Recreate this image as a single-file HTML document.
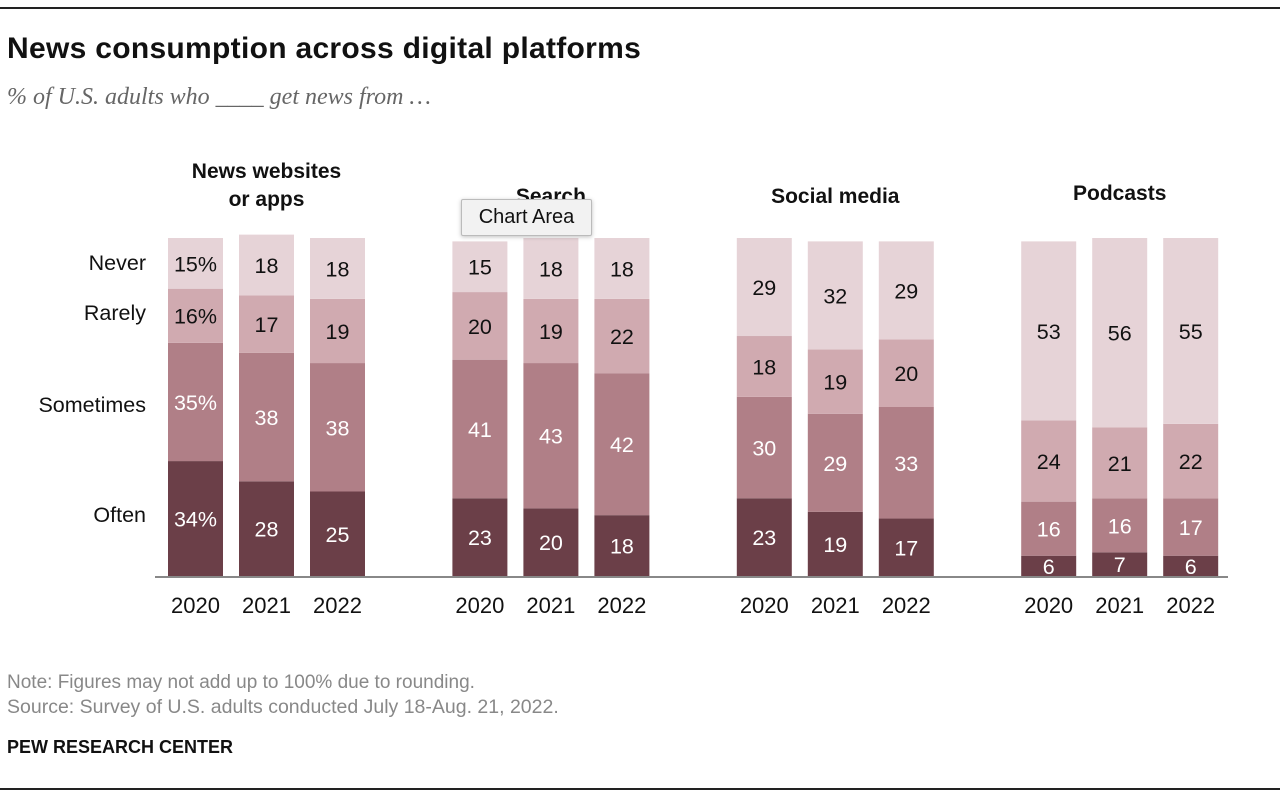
<!DOCTYPE html>
<html><head><meta charset="utf-8"><style>
body{margin:0;width:1280px;height:798px;background:#fff;font-family:"Liberation Sans",sans-serif;position:relative;overflow:hidden}
.abs{position:absolute}
</style></head><body>
<div class="abs" style="left:0;top:7px;width:1280px;height:2px;background:#222"></div>
<div class="abs" style="left:7px;top:32px;font-size:30px;font-weight:bold;color:#111;letter-spacing:0.3px">News consumption across digital platforms</div>
<div class="abs" style="left:7px;top:84px;font-family:'Liberation Serif',serif;font-style:italic;font-size:24px;color:#666">% of U.S. adults who ____ get news from …</div>
<svg class="abs" style="left:0;top:0" width="1280" height="798" id="chart"></svg>
<div class="abs" style="left:461px;top:199px;width:129px;height:35px;background:#f2f2f2;border:1px solid #bbb;border-radius:2px;box-shadow:0 1px 4px rgba(0,0,0,.25);font-size:20px;line-height:35px;text-align:center;color:#111">Chart Area</div>
<div class="abs" style="left:7px;top:672px;font-size:19px;color:#888">Note: Figures may not add up to 100% due to rounding.</div>
<div class="abs" style="left:7px;top:696px;font-size:19.5px;color:#888">Source: Survey of U.S. adults conducted July 18-Aug. 21, 2022.</div>
<div class="abs" style="left:7px;top:737px;font-size:18px;font-weight:bold;color:#111">PEW RESEARCH CENTER</div>
<div class="abs" style="left:0;top:788px;width:1280px;height:2px;background:#222"></div>
<script>
const groups=["News websites|or apps","Search","Social media","Podcasts"];
const years=["2020","2021","2022"];
const categories=["Often","Sometimes","Rarely","Never"];
const often=[[34,28,25],[23,20,18],[23,19,17],[6,7,6]];
const sometimes=[[35,38,38],[41,43,42],[30,29,33],[16,16,17]];
const rarely=[[16,17,19],[20,19,22],[18,19,20],[24,21,22]];
const never=[[15,18,18],[15,18,18],[29,32,29],[53,56,55]];
const series=[often,sometimes,rarely,never];
const colors=["#6b3f48","#b07f87","#d0aab0","#e6d3d7"];
const textColors=["#fff","#fff","#111","#111"];
const NS="http://www.w3.org/2000/svg";
const svg=document.getElementById('chart');
const base=576,scale=3.38;
const y=v=>base-v*scale;
const groupX=g=>168+g*284.4;
const barX=(g,i)=>groupX(g)+i*71;
const bw=55;
function mk(t,a){const e=document.createElementNS(NS,t);for(const k in a)e.setAttribute(k,a[k]);svg.appendChild(e);return e;}
const titleY=[[171,199],[196],[196],[193]];
groups.forEach((gname,g)=>{
  gname.split('|').forEach((line,li)=>{
    const t=mk('text',{x:barX(g,1)+bw/2,y:titleY[g][li]+7,'text-anchor':'middle','font-size':21,'font-weight':'bold',fill:'#111'});
    t.textContent=line;
    
    
  });
  years.forEach((yr,i)=>{
    let cum=0;
    series.forEach((s,k)=>{
      const v=s[g][i];
      const r=mk('rect',{x:barX(g,i),y:y(cum+v),width:bw,height:v*scale,fill:colors[k]});
      
      
      const t=mk('text',{x:barX(g,i)+bw/2,y:y(cum+v/2)+8,'text-anchor':'middle','font-size':21.5,fill:textColors[k]});
      t.textContent=v+(g===0&&i===0?'%':'');
      
      
      cum+=v;
    });
    const yl=mk('text',{x:barX(g,i)+bw/2,y:613,'text-anchor':'middle','font-size':22,fill:'#111'});
    yl.textContent=yr;
    
    
  });
});
const ax=mk('line',{x1:155,x2:1228,y1:base+1,y2:base+1,stroke:'#888','stroke-width':2});


const rowY=[514,404,312,262];
categories.forEach((c,k)=>{
  const t=mk('text',{x:146,y:rowY[k]+8,'text-anchor':'end','font-size':21.5,fill:'#111'});
  t.textContent=c;
  
  
});
</script>
</body></html>
